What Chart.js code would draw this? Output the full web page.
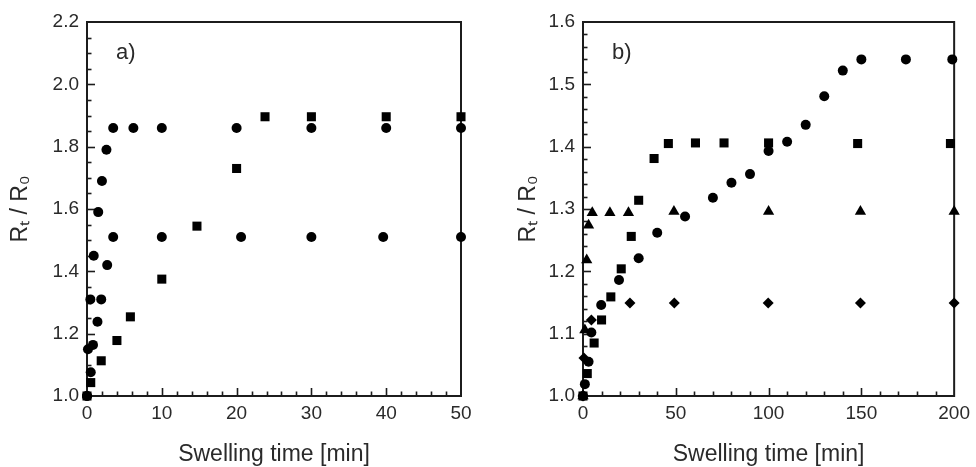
<!DOCTYPE html>
<html lang="en">
<head>
    <meta charset="UTF-8">
    <title>Swelling ratio</title>
    <script src="https://cdn.jsdelivr.net/npm/chart.js"></script>
    <style>
        body {
            margin: 0;
            background: #fff;
        }
        .panel {
            position: absolute;
            top: 0;
        }
        #panelA { left: 0; }
        #panelB { left: 488px; }
    </style>
</head>
<body>
    <canvas id="panelA" class="panel" width="488" height="467"></canvas>
    <canvas id="panelB" class="panel" width="488" height="467"></canvas>

    <script>
        // panel a) - swelling time [min] vs Rt/R0
        const aTime1 = [0, 0.13, 0.45, 0.9, 1.5, 2.0, 2.6, 3.5, 6.2, 10, 20, 30, 40, 50];
        const aRatio1 = [1.00, 1.15, 1.31, 1.45, 1.59, 1.69, 1.79, 1.86, 1.86, 1.86, 1.86, 1.86, 1.86, 1.86];
        const aTime2 = [0, 0.5, 0.8, 1.4, 1.9, 2.7, 3.5, 10, 20.6, 30, 39.6, 50];
        const aRatio2 = [1.00, 1.076, 1.164, 1.238, 1.31, 1.42, 1.51, 1.51, 1.51, 1.51, 1.51, 1.51];
        const aTime3 = [0, 0.5, 1.9, 4.0, 5.8, 10, 14.7, 20, 23.8, 30, 40, 50];
        const aRatio3 = [1.00, 1.043, 1.113, 1.178, 1.254, 1.375, 1.545, 1.73, 1.896, 1.896, 1.896, 1.896];

        // panel b)
        const bTime1 = [0, 1, 3, 4.5, 9.8, 19.4, 30, 40, 55, 70, 80, 90, 100, 110, 120, 130, 140, 150, 174, 199];
        const bRatio1 = [1.00, 1.019, 1.055, 1.102, 1.146, 1.186, 1.221, 1.262, 1.288, 1.318, 1.342, 1.356, 1.393, 1.408, 1.435, 1.481, 1.522, 1.540, 1.540, 1.540];
        const bTime2 = [0, 2.3, 6, 10, 15, 20.6, 26, 30, 38.3, 46, 60.6, 76, 100, 148, 198];
        const bRatio2 = [1.00, 1.036, 1.085, 1.122, 1.159, 1.204, 1.256, 1.314, 1.381, 1.405, 1.406, 1.406, 1.406, 1.405, 1.405];
        const bTime3 = [0, 1, 2, 3, 5, 14.5, 24.5, 49, 100, 149.5, 200];
        const bRatio3 = [1.00, 1.106, 1.218, 1.274, 1.294, 1.294, 1.294, 1.296, 1.296, 1.296, 1.296];
        const bTime4 = [0, 0.5, 4.5, 25.3, 49.2, 99.8, 149.5, 200];
        const bRatio4 = [1.00, 1.061, 1.122, 1.149, 1.149, 1.149, 1.149, 1.149];

        const FONT = '"Liberation Sans", Arial, sans-serif';
        const INK = '#1c1c1c';
        const TEXT = '#2a2a2a';

        function toPoints(xs, ys) {
            return xs.map((x, i) => ({ x: x, y: ys[i] }));
        }

        function series(xs, ys, style, radius) {
            return {
                data: toPoints(xs, ys),
                pointStyle: style,
                pointRadius: radius,
                pointHoverRadius: radius,
                backgroundColor: '#000',
                borderColor: '#000',
                borderWidth: 0,
                showLine: false,
                clip: false
            };
        }

        // frame box, inward ticks and the panel letter
        const frameTicks = {
            id: 'frameTicks',
            beforeDatasetsDraw(chart, args, opts) {
                const { ctx, chartArea: area, scales } = chart;
                ctx.save();
                ctx.strokeStyle = INK;
                ctx.lineWidth = 2;
                ctx.strokeRect(area.left, area.top, area.right - area.left, area.bottom - area.top);

                ctx.lineWidth = 1.6;
                const drawTicks = (scale, minor, major, horizontal) => {
                    const n = Math.round((scale.max - scale.min) / minor);
                    for (let i = 1; i < n; i++) {
                        const v = scale.min + i * minor;
                        const r = v / major;
                        const len = Math.abs(r - Math.round(r)) < 1e-6 ? 8 : 4.5;
                        const p = Math.round(scale.getPixelForValue(v)) + 0.5;
                        ctx.beginPath();
                        if (horizontal) {
                            ctx.moveTo(p, area.bottom);
                            ctx.lineTo(p, area.bottom - len);
                        } else {
                            ctx.moveTo(area.left, p);
                            ctx.lineTo(area.left + len, p);
                        }
                        ctx.stroke();
                    }
                };
                drawTicks(scales.x, opts.xMinor, opts.xMajor, true);
                drawTicks(scales.y, opts.yMinor, opts.yMajor, false);

                ctx.fillStyle = TEXT;
                ctx.font = '22px ' + FONT;
                ctx.textBaseline = 'middle';
                ctx.fillText(opts.label, area.left + 29, area.top + 31);
                ctx.restore();
            }
        };

        function makeChart(id, datasets, xOpts, yOpts, layout) {
            return new Chart(document.getElementById(id), {
                type: 'scatter',
                data: { datasets: datasets },
                options: {
                    responsive: false,
                    animation: false,
                    devicePixelRatio: 1,
                    layout: { padding: { left: 0, top: 22, right: layout.right, bottom: 0 } },
                    plugins: {
                        legend: { display: false },
                        tooltip: { enabled: false },
                        frameTicks: layout.ticks
                    },
                    scales: {
                        x: {
                            type: 'linear',
                            min: xOpts.min,
                            max: xOpts.max,
                            grid: { display: false, drawTicks: false },
                            border: { display: false },
                            ticks: {
                                stepSize: xOpts.step,
                                color: TEXT,
                                padding: 6,
                                maxRotation: 0,
                                font: { family: FONT, size: 19 }
                            },
                            title: {
                                display: true,
                                text: 'Swelling time [min]',
                                color: TEXT,
                                padding: { top: 0, bottom: 1 },
                                font: { family: FONT, size: 23, lineHeight: 1 }
                            },
                            afterFit(scale) { scale.height = 71; }
                        },
                        y: {
                            type: 'linear',
                            min: yOpts.min,
                            max: yOpts.max,
                            grid: { display: false, drawTicks: false },
                            border: { display: false },
                            ticks: {
                                stepSize: yOpts.step,
                                color: TEXT,
                                padding: 8,
                                font: { family: FONT, size: 19 },
                                callback: v => v.toFixed(1)
                            },
                            title: {
                                display: true,
                                text: 'Rₜ / R₀',
                                color: TEXT,
                                padding: { top: layout.titleOffset, bottom: 0 },
                                font: { family: FONT, size: 23, lineHeight: 1 }
                            },
                            afterFit(scale) { scale.width = layout.axisWidth; }
                        }
                    }
                },
                plugins: [frameTicks]
            });
        }

        makeChart('panelA', [
            series(aTime3, aRatio3, 'rect', 6.4),
            series(aTime1, aRatio1, 'circle', 5),
            series(aTime2, aRatio2, 'circle', 5)
        ], { min: 0, max: 50, step: 10 }, { min: 1.0, max: 2.2, step: 0.2 }, {
            right: 27, axisWidth: 87, titleOffset: 9.5,
            ticks: { xMinor: 2, xMajor: 10, yMinor: 0.05, yMajor: 0.2, label: 'a)' }
        });

        makeChart('panelB', [
            series(bTime2, bRatio2, 'rect', 6.4),
            series(bTime1, bRatio1, 'circle', 5),
            series(bTime3, bRatio3, 'triangle', 6.5),
            series(bTime4, bRatio4, 'rectRot', 5.5)
        ], { min: 0, max: 200, step: 50 }, { min: 1.0, max: 1.6, step: 0.1 }, {
            right: 19, axisWidth: 95, titleOffset: 29.5,
            ticks: { xMinor: 10, xMajor: 50, yMinor: 0.02, yMajor: 0.1, label: 'b)' }
        });
    </script>
</body>
</html>
